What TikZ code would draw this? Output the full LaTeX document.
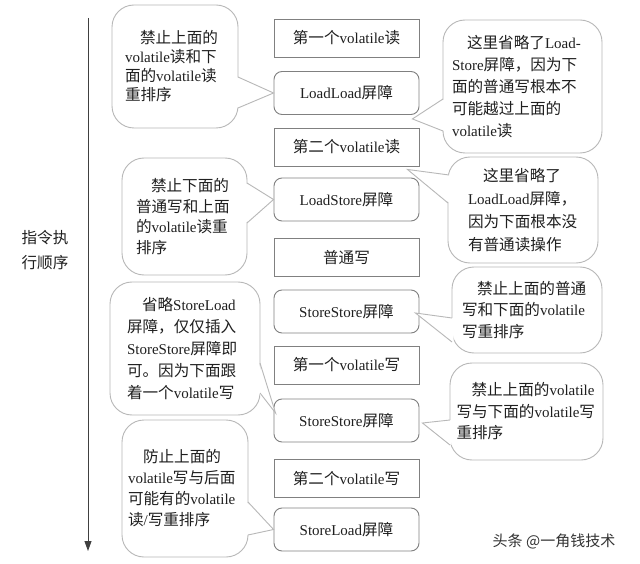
\documentclass[tikz,border=0pt]{standalone}
\usepackage{fontspec}
\setmainfont{Liberation Serif}
\newfontfamily\cjkfont[Scale=1.04]{Noto Sans CJK SC}
\newfontfamily\wmfont{Noto Sans CJK SC}
\usetikzlibrary{arrows.meta,calc}
\hyphenpenalty=10000
\exhyphenpenalty=10000
% automatic switch between Latin (Liberation Serif) and CJK (Noto Sans CJK SC)
\XeTeXinterchartokenstate=1
\newXeTeXintercharclass\cjkclass
\newcount\cjkcnt
\cjkcnt="4E00
\loop\XeTeXcharclass\cjkcnt=\cjkclass\advance\cjkcnt by 1 \ifnum\cjkcnt<"A000 \repeat
\cjkcnt="3000
\loop\XeTeXcharclass\cjkcnt=\cjkclass\advance\cjkcnt by 1 \ifnum\cjkcnt<"3040 \repeat
\cjkcnt="FF00
\loop\XeTeXcharclass\cjkcnt=\cjkclass\advance\cjkcnt by 1 \ifnum\cjkcnt<"FFF0 \repeat
\XeTeXinterchartoks 0 \cjkclass = {\cjkfont}
\XeTeXinterchartoks 4095 \cjkclass = {\cjkfont}
\XeTeXinterchartoks \cjkclass 0 = {\rmfamily}
\XeTeXinterchartoks 4095 0 = {\rmfamily}
\newcommand\mkptr[4]{%
  \fill[white] ($(#2)+(#1,0)$) -- (#3) -- ($(#4)+(#1,0)$) -- cycle;
  \draw[ptr] (#2) -- (#3) -- (#4);}
\begin{document}
\begin{tikzpicture}[x=1pt,y=-1pt,
  every node/.append style={text=black!88},
  opbox/.style={draw=black!50,line width=0.9pt,minimum width=145pt,minimum height=38pt,inner sep=0pt,font=\fontsize{15}{18}\selectfont},
  barbox/.style={opbox,rounded corners=8pt,minimum height=43pt},
  callout/.style={draw=black!28,line width=0.9pt,fill=white,rounded corners=22pt,inner sep=0pt,align=left},
  cf/.style={font=\fontsize{15}{#1}\selectfont},
  ptr/.style={draw=black!28,line width=0.9pt,line join=miter},
  arr/.style={draw=black!75,line width=0.9pt,-{Triangle[length=10pt,width=7pt]}}
]
\useasboundingbox (0,0) rectangle (640,564);
\fill[white] (0,0) rectangle (640,564);

% instruction order arrow
\coordinate (arrTop) at (88,18);
\coordinate (arrEnd) at (88,551);
\draw[arr] (arrTop) -- (arrEnd);
\node[align=center,font=\fontsize{15}{25}\selectfont] (lbl) at (45,250) {指令执\\行顺序};

% central column
\node[opbox]  (R1)  at (346.5,38)    {第一个volatile读};
\node[barbox] (LL)  at (346.5,93)    {LoadLoad屏障};
\node[opbox]  (R2)  at (346.5,147)   {第二个volatile读};
\node[barbox] (LS)  at (346.5,199.5) {LoadStore屏障};
\node[opbox]  (NW)  at (346.5,257.5) {普通写};
\node[barbox] (SS1) at (346.5,311.5) {StoreStore屏障};
\node[opbox]  (W1)  at (346.5,365)   {第一个volatile写};
\node[barbox] (SS2) at (346.5,420.5) {StoreStore屏障};
\node[opbox]  (W2)  at (346.5,478.5) {第二个volatile写};
\node[barbox] (SL)  at (346.5,529.5) {StoreLoad屏障};

% left callouts
\node[callout,cf=19,minimum width=126pt,minimum height=123pt,text width=100pt] (cA) at (175,66.5)
  {\hspace*{1em}禁止上面的\\volatile读和下\\面的volatile读\\重排序};
\node[callout,cf=20.5,minimum width=125pt,minimum height=117pt,text width=97pt] (cB) at (184.5,216.5)
  {\hspace*{1em}禁止下面的\\普通写和上面\\的volatile读重\\排序};
\node[callout,cf=22,minimum width=150pt,minimum height=133pt,text width=116pt] (cC) at (185,348.5)
  {\hspace*{1em}省略StoreLoad\\屏障，仅仅插入\\StoreStore屏障即\\可。因为下面跟\\着一个volatile写};
\node[callout,cf=21,minimum width=126pt,minimum height=137pt,text width=114pt] (cD) at (185,488.5)
  {\hspace*{1em}防止上面的\\volatile写与后面\\可能有的volatile\\读/写重排序};

% right callouts
\node[callout,cf=22,minimum width=159pt,minimum height=133pt,text width=141pt] (cE) at (522.5,86.5)
  {\hspace*{1em}这里省略了Load-\\Store屏障，因为下\\面的普通写根本不\\可能越过上面的\\volatile读};
\node[callout,cf=23,minimum width=150pt,minimum height=106pt,text width=110pt] (cF) at (523,210)
  {\hspace*{1em}这里省略了\\LoadLoad屏障，\\因为下面根本没\\有普通读操作};
\node[callout,cf=21.5,minimum width=150pt,minimum height=86pt,text width=130pt] (cG) at (527,310)
  {\hspace*{1em}禁止上面的普通\\写和下面的volatile\\写重排序};
\node[callout,cf=21.5,minimum width=153pt,minimum height=97pt,text width=140pt] (cH) at (526.5,411.5)
  {\hspace*{1em}禁止上面的volatile\\写与下面的volatile写\\重排序};

% pointer bases and tips
\coordinate (a1) at (238,77);  \coordinate (a2) at (238,108);
\coordinate (b1) at (247,183); \coordinate (b2) at (247,223);
\coordinate (c1) at (260,363); \coordinate (c2) at (260,393);
\coordinate (d1) at (248,502); \coordinate (d2) at (248,535);
\coordinate (e1) at (443,99);  \coordinate (e2) at (443,131);
\coordinate (f1) at (449,175); \coordinate (f2) at (448,203);
\coordinate (g1) at (452,318); \coordinate (g2) at (452,342);
\coordinate (h1) at (450,420); \coordinate (h2) at (450,445);
\coordinate (tA) at (LL.west);
\coordinate (tB) at (LS.west);
\coordinate (tC) at ($(SS2.west)+(2,-7.5)$);
\coordinate (tD) at (SL.west);
\coordinate (tE) at ($(LL.south east)+(-7,4)$);
\coordinate (tF) at ($(R2.south east)+(-12,3)$);
\coordinate (tG) at ($(SS1.east)+(-4,1.5)$);
\coordinate (tH) at ($(SS2.east)+(3,2.5)$);

\mkptr{-1.5}{a1}{tA}{a2}
\mkptr{-1.5}{b1}{tB}{b2}
\mkptr{-1.5}{c1}{tC}{c2}
\mkptr{-1.5}{d1}{tD}{d2}
\mkptr{1.5}{e1}{tE}{e2}
\mkptr{1.5}{f1}{tF}{f2}
\mkptr{1.5}{g1}{tG}{g2}
\mkptr{1.5}{h1}{tH}{h2}

% watermark
\node[font={\XeTeXinterchartokenstate=0 \wmfont\fontsize{15}{18}\selectfont},text=black!80] (wm) at (554,541) {头条 @一角钱技术};
\end{tikzpicture}
\end{document}
